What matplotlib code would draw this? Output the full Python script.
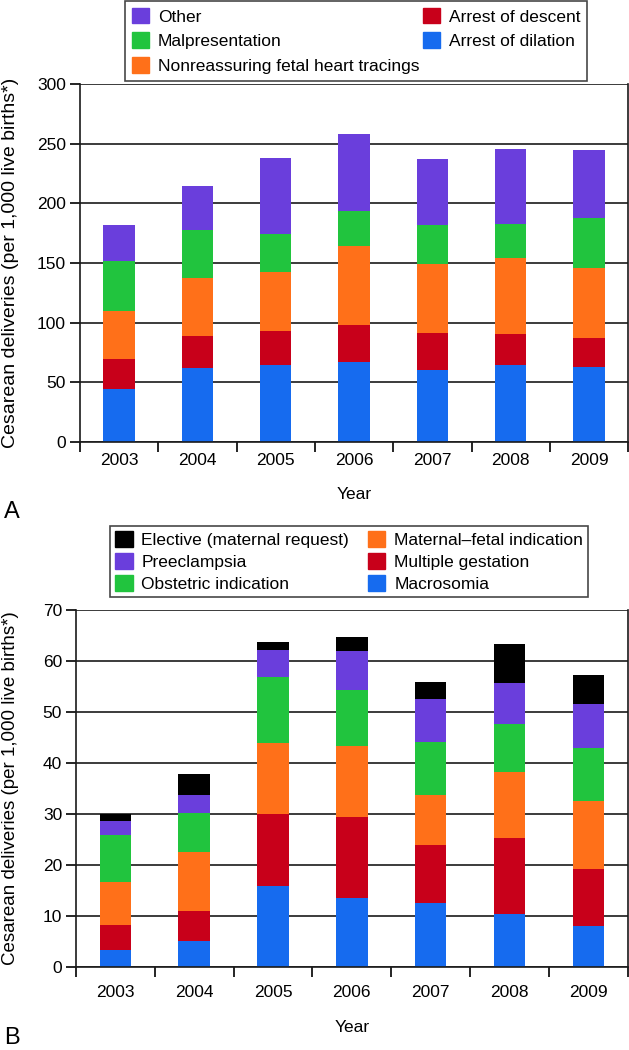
import matplotlib
matplotlib.use('Agg')
import matplotlib.pyplot as plt
from matplotlib.patches import Patch

plt.rcParams['font.family'] = ['Liberation Sans', 'DejaVu Sans']

years = ['2003', '2004', '2005', '2006', '2007', '2008', '2009']

# panel A (per 1,000 live births)
a_dilation = [44, 62, 64, 67, 60, 64, 63]
a_descent = [25, 27, 29, 31, 31, 26, 24]
a_nonreassuring = [41, 48, 49.5, 66.5, 58.5, 64, 59]
a_malpresentation = [42, 40.5, 32, 29, 32, 29, 42]
a_other = [30, 37.5, 63.5, 64.7, 55.5, 63, 57]

# panel B
b_macrosomia = [3.3, 5.1, 16.0, 13.5, 12.5, 10.4, 8.0]
b_multiple = [5.0, 6.0, 14.0, 16.0, 11.5, 14.8, 11.2]
b_matfetal = [8.3, 11.4, 13.9, 13.8, 9.8, 13.0, 13.4]
b_obstetric = [9.3, 7.7, 12.8, 11.0, 10.3, 9.4, 10.3]
b_preeclampsia = [2.7, 3.6, 5.3, 7.6, 8.4, 8.0, 8.7]
b_elective = [1.4, 4.1, 1.7, 2.7, 3.3, 7.6, 5.6]

BLUE = '#166BEF'
RED = '#C8001A'
ORANGE = '#FF7019'
GREEN = '#21C43E'
PURPLE = '#6A3EDC'
BLACK = '#000000'

W, H = 629, 1050
fig = plt.figure(figsize=(W / 100, H / 100), dpi=100)


def px_axes(l, t, r, b):
    return fig.add_axes([l / W, 1 - b / H, (r - l) / W, (b - t) / H])


def stack(ax, series, colors):
    x = list(range(len(years)))
    bottom = [0] * len(years)
    for vals, c in zip(series, colors):
        ax.bar(x, vals, width=0.4, bottom=bottom, color=c, zorder=2)
        bottom = [b + v for b, v in zip(bottom, vals)]


def style(ax, ymax, step, ylab_x, ylab_fs, xpad):
    ax.set_xlim(-0.5, 6.5)
    ax.set_ylim(0, ymax)
    ax.set_yticks(range(0, ymax + 1, step))
    ax.yaxis.grid(True, color='#1a1a1a', lw=1.2, zorder=0)
    ax.set_axisbelow(True)
    ax.set_xticks(range(len(years)))
    ax.set_xticklabels(years, fontsize=12.5)
    ax.set_xticks([i - 0.5 for i in range(len(years) + 1)], minor=True)
    ax.tick_params(axis='x', which='major', length=0, pad=xpad)
    ax.tick_params(axis='x', which='minor', length=7, width=1.2, direction='out')
    ax.tick_params(axis='y', length=7, width=1.2, labelsize=12.5, pad=3)
    for s in ['left', 'bottom', 'right']:
        ax.spines[s].set_linewidth(1.2)
        ax.spines[s].set_color('#1a1a1a')
    ax.spines['top'].set_visible(False)
    ax.set_ylabel('Cesarean deliveries (per 1,000 live births*)', fontsize=ylab_fs)
    ax.yaxis.set_label_coords(ylab_x, 0.5)
    ax.set_xlabel('Year', fontsize=12.5, labelpad=14)


# ---- A
axA = px_axes(80, 84.3, 628.3, 441.7)
stack(axA, [a_dilation, a_descent, a_nonreassuring, a_malpresentation, a_other],
      [BLUE, RED, ORANGE, GREEN, PURPLE])
style(axA, 300, 50, -0.112, 14, 8)

hA = [Patch(color=PURPLE), Patch(color=GREEN), Patch(color=ORANGE),
      Patch(color=RED), Patch(color=BLUE)]
lA = ['Other', 'Malpresentation', 'Nonreassuring fetal heart tracings',
      'Arrest of descent', 'Arrest of dilation']
legA = fig.legend(hA, lA, loc='upper left', bbox_to_anchor=(125 / W, 1 - 1 / H),
                  ncol=2, fontsize=12.5, frameon=True, fancybox=False,
                  handlelength=1.0, handleheight=1.0, handletextpad=0.5,
                  labelspacing=0.45, columnspacing=0.2, borderpad=0.4,
                  borderaxespad=0)
legA.get_frame().set_edgecolor('#1a1a1a')
legA.get_frame().set_linewidth(1.2)

# ---- B
axB = px_axes(76, 609.5, 627.7, 967.3)
stack(axB, [b_macrosomia, b_multiple, b_matfetal, b_obstetric, b_preeclampsia, b_elective],
      [BLUE, RED, ORANGE, GREEN, PURPLE, BLACK])
style(axB, 70, 10, -0.104, 13.5, 13)

hB = [Patch(color=BLACK), Patch(color=PURPLE), Patch(color=GREEN),
      Patch(color=ORANGE), Patch(color=RED), Patch(color=BLUE)]
lB = ['Elective (maternal request)', 'Preeclampsia', 'Obstetric indication',
      'Maternal\u2013fetal indication', 'Multiple gestation', 'Macrosomia']
legB = fig.legend(hB, lB, loc='upper left', bbox_to_anchor=(110 / W, 1 - 526 / H),
                  ncol=2, fontsize=12.5, frameon=True, fancybox=False,
                  handlelength=1.0, handleheight=1.0, handletextpad=0.5,
                  labelspacing=0.3, columnspacing=1.1, borderpad=0.3,
                  borderaxespad=0)
legB.get_frame().set_edgecolor('#1a1a1a')
legB.get_frame().set_linewidth(1.2)

fig.text(12 / W, 1 - 512 / H, 'A', fontsize=17, va='center', ha='center')
fig.text(12 / W, 1 - 1038 / H, 'B', fontsize=17, va='center', ha='center')

fig.savefig('out.png', dpi=100)
